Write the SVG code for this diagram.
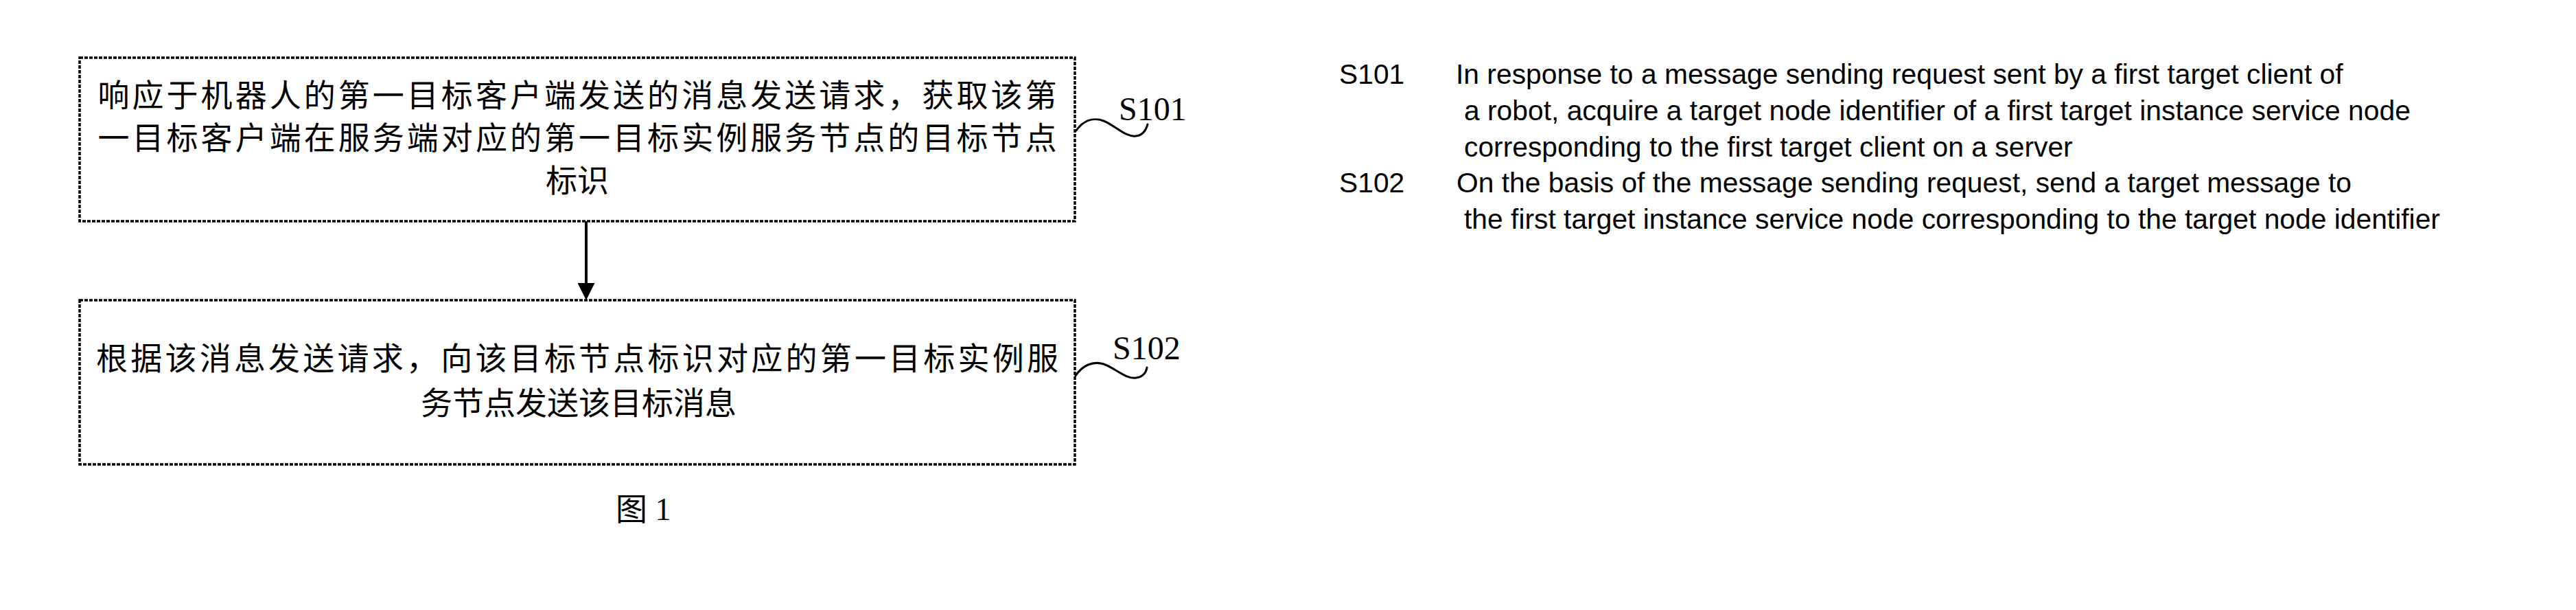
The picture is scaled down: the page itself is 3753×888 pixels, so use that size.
<svg xmlns="http://www.w3.org/2000/svg" width="3753" height="888" viewBox="0 0 3753 888">
<style>
.box{fill:#fff;stroke:#000;stroke-width:3.5;stroke-dasharray:5 2}
.cn{font-family:"Noto Sans CJK SC",sans-serif;font-size:46px;fill:#000;text-anchor:middle}
.lbl{font-family:"Liberation Serif","Times New Roman",serif;font-size:48px;fill:#000}
.squig{fill:none;stroke:#000;stroke-width:3;stroke-linecap:round}
.en{font-family:"Liberation Sans",Arial,sans-serif;font-size:40.8px;fill:#000}
.conn{stroke:#000;stroke-width:4;fill:none}
.cap{font-family:"Liberation Serif","Noto Sans CJK SC",serif;font-size:46px;fill:#000}
</style>
<defs>
<marker id="ah" markerUnits="userSpaceOnUse" markerWidth="25" markerHeight="25" viewBox="0 0 25 25" refX="3" refY="12.5" orient="auto">
<path d="M0,0 L25,12.5 L0,25 Z" fill="#000"/>
</marker>
</defs>
<g id="node-s101">
<rect class="box" x="116" y="84" width="1450" height="238"/>
<text class="cn" x="841" y="155" textLength="1397">响应于机器人的第一目标客户端发送的消息发送请求，获取该第</text>
<text class="cn" x="841" y="217" textLength="1397">一目标客户端在服务端对应的第一目标实例服务节点的目标节点</text>
<text class="cn" x="841" y="279">标识</text>
<path class="squig" d="M1568,190 C1578,176 1592,170 1608,176 C1625,183 1640,200 1655,198 C1665,197 1670,188 1672,181"/>
<text class="lbl" x="1630" y="175">S101</text>
</g>
<g id="node-s102">
<rect class="box" x="116" y="437" width="1450" height="239"/>
<text class="cn" x="841" y="538" textLength="1402">根据该消息发送请求，向该目标节点标识对应的第一目标实例服</text>
<text class="cn" x="843" y="603">务节点发送该目标消息</text>
<path class="squig" d="M1567,547 C1577,532 1592,525 1608,530 C1625,536 1640,552 1655,550 C1665,549 1670,542 1671,535"/>
<text class="lbl" x="1621" y="523">S102</text>
</g>
<g id="connectors">
<line class="conn" x1="854" y1="322" x2="854" y2="415" marker-end="url(#ah)"/>
</g>
<g id="caption">
<text class="cap" x="897" y="757">图 1</text>
</g>
<g id="legend">
<text class="en" x="1951" y="122">S101</text>
<text class="en" x="2121" y="122">In response to a message sending request sent by a first target client of</text>
<text class="en" x="2133" y="175">a robot, acquire a target node identifier of a first target instance service node</text>
<text class="en" x="2133" y="228">corresponding to the first target client on a server</text>
<text class="en" x="1951" y="280">S102</text>
<text class="en" x="2122" y="280">On the basis of the message sending request, send a target message to</text>
<text class="en" x="2133" y="333">the first target instance service node corresponding to the target node identifier</text>
</g>
</svg>
